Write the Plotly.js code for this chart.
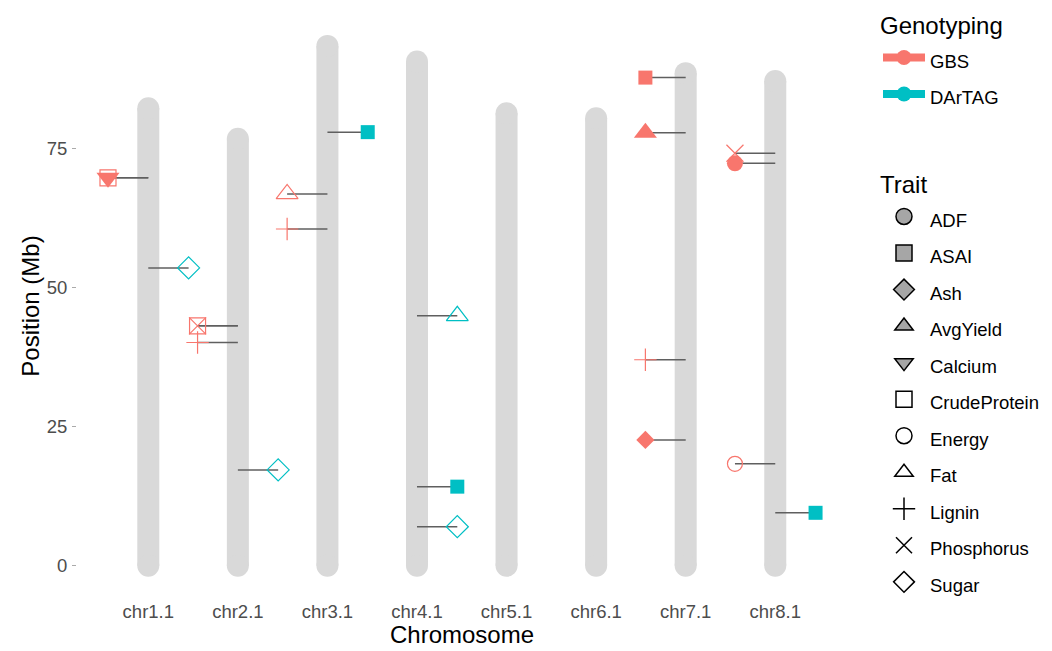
<!DOCTYPE html>
<html><head><meta charset="utf-8">
<script src="https://cdn.plot.ly/plotly-3.0.1.min.js"></script>
<style>html,body{margin:0;padding:0;background:#fff}#chart{width:1052px;height:651px}</style>
</head><body><div id="chart"></div>
<script>
// ---- data ----
const chromosomes = ['chr1.1','chr2.1','chr3.1','chr4.1','chr5.1','chr6.1','chr7.1','chr8.1'];
const chromLength = [82.2, 76.7, 93.4, 90.6, 81.3, 80.4, 88.5, 87.1];

const qtlChrom = ['chr1.1','chr1.1','chr1.1','chr2.1','chr2.1','chr2.1','chr2.1','chr3.1','chr3.1','chr3.1',
                  'chr4.1','chr4.1','chr4.1','chr7.1','chr7.1','chr7.1','chr7.1','chr8.1','chr8.1','chr8.1','chr8.1'];
const qtlPos   = [69.7, 69.7, 53.5, 43.1, 43.1, 40.1, 17.2, 77.9, 66.8, 60.5,
                  44.9, 14.2, 7.0, 87.7, 77.8, 37.0, 22.6, 74.1, 72.3, 18.3, 9.5];
const qtlTrait = ['Calcium','CrudeProtein','Sugar','CrudeProtein','Phosphorus','Lignin','Sugar','ASAI','Fat','Lignin',
                  'Fat','ASAI','Sugar','ASAI','AvgYield','Lignin','Ash','Phosphorus','ADF','Energy','ASAI'];
const qtlGeno  = ['GBS','GBS','DArTAG','GBS','GBS','GBS','DArTAG','DArTAG','GBS','GBS',
                  'DArTAG','DArTAG','DArTAG','GBS','GBS','GBS','GBS','GBS','GBS','GBS','DArTAG'];

const genotypes = ['GBS','DArTAG'];
const traits = ['ADF','ASAI','Ash','AvgYield','Calcium','CrudeProtein','Energy','Fat','Lignin','Phosphorus','Sugar'];

// ---- styles ----
const genoColor = {GBS:'#F8766D', DArTAG:'#00BFC4'};
const genoSide = {GBS:-0.45, DArTAG:0.45};
const traitStyle = {
  ADF:{symbol:'circle', size:16, filled:true},
  ASAI:{symbol:'square', size:14, filled:true},
  Ash:{symbol:'diamond', size:14, filled:true},
  AvgYield:{symbol:'triangle-up', size:20, filled:true},
  Calcium:{symbol:'triangle-down', size:20, filled:true},
  CrudeProtein:{symbol:'square-open', size:16},
  Energy:{symbol:'circle-open', size:15},
  Fat:{symbol:'triangle-up-open', size:19},
  Lignin:{symbol:'cross-thin-open', size:16},
  Phosphorus:{symbol:'x-thin-open', size:17},
  Sugar:{symbol:'diamond-open', size:17}
};
const barColor = '#d9d9d9';
const segColor = '#5f5f5f';
const FONT = 'Arial, "Liberation Sans", sans-serif';

const chromIdx = c => chromosomes.indexOf(c) + 1;
const traces = [];

// chromosome bars (line + round end caps)
const bx = [], by = [];
chromosomes.forEach((c, i) => { bx.push(i + 1, i + 1, null); by.push(0, chromLength[i], null); });
traces.push({x: bx, y: by, mode: 'lines+markers', line: {color: barColor, width: 22},
  marker: {color: barColor, size: 22, symbol: 'circle', line: {width: 0}},
  hoverinfo: 'skip', showlegend: false});

// connector segments
const sx = [], sy = [];
qtlChrom.forEach((c, i) => {
  const xi = chromIdx(c);
  sx.push(xi, xi + genoSide[qtlGeno[i]], null);
  sy.push(qtlPos[i], qtlPos[i], null);
});
traces.push({x: sx, y: sy, mode: 'lines', line: {color: segColor, width: 1.5},
  hoverinfo: 'skip', showlegend: false});

// QTL markers
qtlChrom.forEach((c, i) => {
  const st = traitStyle[qtlTrait[i]];
  const col = genoColor[qtlGeno[i]];
  traces.push({
    x: [chromIdx(c) + genoSide[qtlGeno[i]]], y: [qtlPos[i]], mode: 'markers',
    marker: {symbol: st.symbol, size: st.size, color: col,
             line: {color: col, width: st.filled ? 0 : 1.2}},
    name: qtlTrait[i] + ' (' + qtlGeno[i] + ')', showlegend: false
  });
});

const span = (t, s) => '<span style="font-size:' + s + 'px">' + t + '</span>';

// legend: Genotyping
genotypes.forEach(g => {
  traces.push({x: [null], y: [null], mode: 'lines+markers', legend: 'legend',
    name: span(g, 18.5),
    line: {color: genoColor[g], width: 8},
    marker: {color: genoColor[g], size: 15, symbol: 'circle'}, showlegend: true});
});
// legend: Trait
traits.forEach(t => {
  const st = traitStyle[t];
  traces.push({x: [null], y: [null], mode: 'markers', legend: 'legend2',
    name: span(t, 18.5),
    marker: {symbol: st.symbol, size: 16, color: st.filled ? '#a6a6a6' : '#000000',
             line: {color: '#000000', width: 1.5}}, showlegend: true});
});

const layout = {
  width: 1052, height: 651,
  margin: {l: 77, r: 205, t: 20, b: 59, pad: 0},
  paper_bgcolor: '#ffffff', plot_bgcolor: '#ffffff',
  font: {family: FONT, color: '#000000'},
  showlegend: true,
  xaxis: {
    range: [0.204, 8.801], tickvals: chromosomes.map((c, i) => i + 1), ticktext: chromosomes,
    showgrid: false, zeroline: false, showline: false, ticks: '',
    tickfont: {family: FONT, size: 18.5, color: '#4d4d4d'}, ticklabelstandoff: 6,
    title: {text: 'Chromosome', font: {family: FONT, size: 24, color: '#000'}, standoff: 2}
  },
  yaxis: {
    range: [-4.73, 98.05], tickvals: [0, 25, 50, 75],
    showgrid: false, zeroline: false, showline: false,
    ticks: 'outside', ticklen: 4, tickwidth: 1, tickcolor: '#aaaaaa',
    tickfont: {family: FONT, size: 18.5, color: '#4d4d4d'}, ticklabelstandoff: 1,
    title: {text: 'Position (Mb)', font: {family: FONT, size: 24, color: '#000'}, standoff: 0}
  },
  legend: {
    xref: 'container', yref: 'container', x: 878 / 1052, y: 1 - 3 / 651, xanchor: 'left', yanchor: 'top',
    title: {text: 'Genotyping', font: {family: FONT, size: 24, color: '#000'}},
    font: {family: FONT, size: 25.8, color: '#000'}, bgcolor: 'rgba(0,0,0,0)', borderwidth: 0,
    itemwidth: 42, maxheight: 640, itemclick: false, itemdoubleclick: false
  },
  legend2: {
    xref: 'container', yref: 'container', x: 878 / 1052, y: 1 - 162 / 651, xanchor: 'left', yanchor: 'top',
    title: {text: 'Trait', font: {family: FONT, size: 24, color: '#000'}},
    font: {family: FONT, size: 25.8, color: '#000'}, bgcolor: 'rgba(0,0,0,0)', borderwidth: 0,
    itemwidth: 42, maxheight: 640, itemclick: false, itemdoubleclick: false
  }
};

Plotly.newPlot('chart', traces, layout, {displayModeBar: false, staticPlot: true});
</script>
</body></html>
